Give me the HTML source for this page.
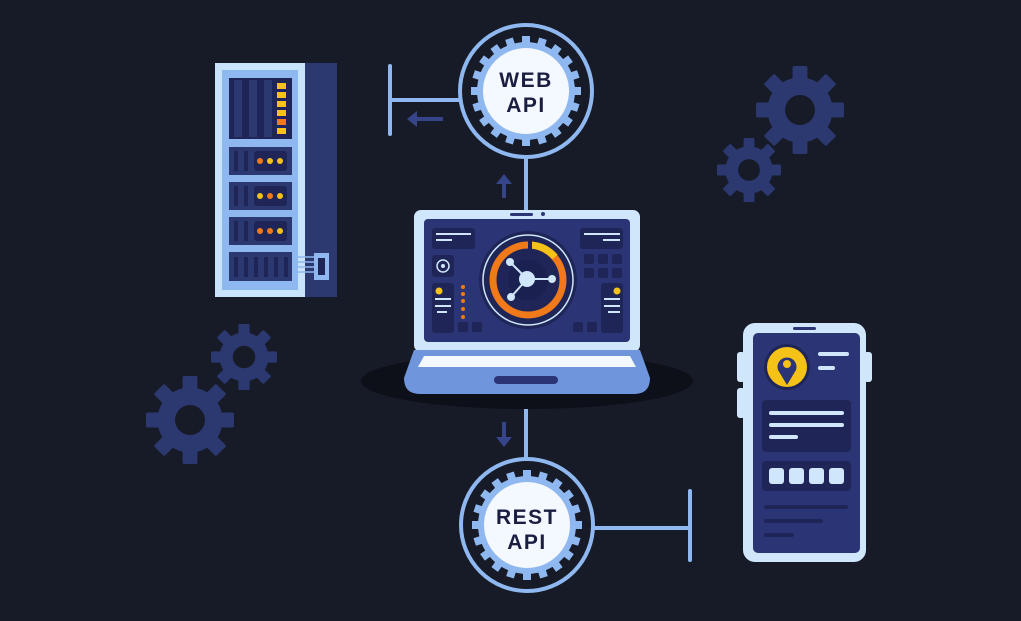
<!DOCTYPE html>
<html><head><meta charset="utf-8"><style>
html,body{margin:0;padding:0;background:#161b27;}
svg{display:block;}
text{font-family:"Liberation Sans",sans-serif;font-weight:bold;}
</style></head><body>
<svg width="1021" height="621" viewBox="0 0 1021 621" xmlns="http://www.w3.org/2000/svg">
<defs>
<g id="gear">
 <circle r="0.74" fill="#2c3870"/>
 <g fill="#2c3870">
  <rect x="-0.17" y="-1" width="0.34" height="0.4" rx="0.04"/>
  <rect x="-0.17" y="-1" width="0.34" height="0.4" rx="0.04" transform="rotate(45)"/>
  <rect x="-0.17" y="-1" width="0.34" height="0.4" rx="0.04" transform="rotate(90)"/>
  <rect x="-0.17" y="-1" width="0.34" height="0.4" rx="0.04" transform="rotate(135)"/>
  <rect x="-0.17" y="-1" width="0.34" height="0.4" rx="0.04" transform="rotate(180)"/>
  <rect x="-0.17" y="-1" width="0.34" height="0.4" rx="0.04" transform="rotate(225)"/>
  <rect x="-0.17" y="-1" width="0.34" height="0.4" rx="0.04" transform="rotate(270)"/>
  <rect x="-0.17" y="-1" width="0.34" height="0.4" rx="0.04" transform="rotate(315)"/>
 </g>
 <circle r="0.34" fill="#161b27"/>
</g>
<g id="apigear">
 <circle r="49" fill="#8fb8f0"/>
 <g fill="#8fb8f0">
  <rect x="-4" y="-55" width="8" height="10"/><rect x="-4" y="-55" width="8" height="10" transform="rotate(18)"/>
  <rect x="-4" y="-55" width="8" height="10" transform="rotate(36)"/><rect x="-4" y="-55" width="8" height="10" transform="rotate(54)"/>
  <rect x="-4" y="-55" width="8" height="10" transform="rotate(72)"/><rect x="-4" y="-55" width="8" height="10" transform="rotate(90)"/>
  <rect x="-4" y="-55" width="8" height="10" transform="rotate(108)"/><rect x="-4" y="-55" width="8" height="10" transform="rotate(126)"/>
  <rect x="-4" y="-55" width="8" height="10" transform="rotate(144)"/><rect x="-4" y="-55" width="8" height="10" transform="rotate(162)"/>
  <rect x="-4" y="-55" width="8" height="10" transform="rotate(180)"/><rect x="-4" y="-55" width="8" height="10" transform="rotate(198)"/>
  <rect x="-4" y="-55" width="8" height="10" transform="rotate(216)"/><rect x="-4" y="-55" width="8" height="10" transform="rotate(234)"/>
  <rect x="-4" y="-55" width="8" height="10" transform="rotate(252)"/><rect x="-4" y="-55" width="8" height="10" transform="rotate(270)"/>
  <rect x="-4" y="-55" width="8" height="10" transform="rotate(288)"/><rect x="-4" y="-55" width="8" height="10" transform="rotate(306)"/>
  <rect x="-4" y="-55" width="8" height="10" transform="rotate(324)"/><rect x="-4" y="-55" width="8" height="10" transform="rotate(342)"/>
 </g>
 <circle r="43" fill="#f4f8ff"/>
</g>
</defs>

<use href="#gear" transform="translate(800,110) scale(44)"/>
<use href="#gear" transform="translate(749,170) scale(32)"/>
<use href="#gear" transform="translate(244,357) scale(33)"/>
<use href="#gear" transform="translate(190,420) scale(44)"/>

<g stroke="#8fb8f0" stroke-width="4" stroke-linecap="round" fill="none">
 <line x1="390" y1="100" x2="460" y2="100"/>
 <line x1="390" y1="66" x2="390" y2="134"/>
 <line x1="526" y1="158" x2="526" y2="212"/>
 <line x1="526" y1="390" x2="526" y2="458"/>
 <line x1="594" y1="528" x2="690" y2="528"/>
 <line x1="690" y1="491" x2="690" y2="560"/>
</g>
<g fill="#36448a" stroke="#36448a">
 <line x1="413" y1="119" x2="443" y2="119" stroke-width="4"/>
 <polygon points="407,119 417,111 417,127" stroke="none"/>
 <line x1="504" y1="182" x2="504" y2="198" stroke-width="4"/>
 <polygon points="504,174 496,184 512,184" stroke="none"/>
 <line x1="504" y1="422" x2="504" y2="438" stroke-width="4"/>
 <polygon points="504,447 496,437 512,437" stroke="none"/>
</g>

<circle cx="526" cy="91" r="66" fill="#161b27" stroke="#8fb8f0" stroke-width="4"/>
<use href="#apigear" transform="translate(526,91)"/>
<text x="526" y="87" font-size="21" fill="#1a1e40" text-anchor="middle" letter-spacing="1.5">WEB</text>
<text x="526" y="112" font-size="21" fill="#1a1e40" text-anchor="middle" letter-spacing="1.5">API</text>

<circle cx="527" cy="525" r="66" fill="#161b27" stroke="#8fb8f0" stroke-width="4"/>
<use href="#apigear" transform="translate(527,525)"/>
<text x="527" y="524" font-size="21" fill="#1a1e40" text-anchor="middle" letter-spacing="1.5">REST</text>
<text x="527" y="549" font-size="21" fill="#1a1e40" text-anchor="middle" letter-spacing="1.5">API</text>

<rect x="305" y="63" width="32" height="234" fill="#2c3870"/>
<rect x="215" y="63" width="90" height="234" fill="#c9e3fb"/>
<rect x="222" y="70" width="76" height="220" fill="#8fb8f0"/>
<rect x="229" y="78" width="63" height="61" fill="#1f2657"/>
<g fill="#2c3870"><rect x="234" y="80" width="8" height="57"/><rect x="249" y="80" width="8" height="57"/><rect x="264" y="80" width="8" height="57"/></g>
<g fill="#f5c218"><rect x="277" y="83" width="9" height="6"/><rect x="277" y="92" width="9" height="6"/><rect x="277" y="101" width="9" height="6"/><rect x="277" y="110" width="9" height="6"/><rect x="277" y="128" width="9" height="6"/></g>
<rect x="277" y="119" width="9" height="6" fill="#f07a1a"/>
<g fill="#2c3870"><rect x="229" y="147" width="63" height="28"/><rect x="229" y="182" width="63" height="28"/><rect x="229" y="217" width="63" height="28"/><rect x="229" y="252" width="63" height="29"/></g>
<g fill="#1f2657"><rect x="254" y="151" width="33" height="20" rx="3"/><rect x="254" y="186" width="33" height="20" rx="3"/><rect x="254" y="221" width="33" height="20" rx="3"/></g>
<g fill="#1f2657"><rect x="234" y="151" width="4" height="20"/><rect x="244" y="151" width="4" height="20"/><rect x="234" y="186" width="4" height="20"/><rect x="244" y="186" width="4" height="20"/><rect x="234" y="221" width="4" height="20"/><rect x="244" y="221" width="4" height="20"/>
<rect x="234" y="257" width="4" height="20"/><rect x="244" y="257" width="4" height="20"/><rect x="254" y="257" width="4" height="20"/><rect x="264" y="257" width="4" height="20"/><rect x="274" y="257" width="4" height="20"/><rect x="284" y="257" width="4" height="20"/></g>
<g><circle cx="260" cy="161" r="3" fill="#f07a1a"/><circle cx="270" cy="161" r="3" fill="#f5c218"/><circle cx="280" cy="161" r="3" fill="#f5c218"/>
<circle cx="260" cy="196" r="3" fill="#f5c218"/><circle cx="270" cy="196" r="3" fill="#f07a1a"/><circle cx="280" cy="196" r="3" fill="#f5c218"/>
<circle cx="260" cy="231" r="3" fill="#f07a1a"/><circle cx="270" cy="231" r="3" fill="#f07a1a"/><circle cx="280" cy="231" r="3" fill="#f5c218"/></g>
<g stroke="#8fb8f0" stroke-width="1.5"><line x1="298" y1="257" x2="314" y2="257"/><line x1="298" y1="262" x2="314" y2="262"/><line x1="298" y1="267" x2="314" y2="267"/><line x1="298" y1="272" x2="314" y2="272"/></g>
<rect x="314" y="253" width="15" height="27" fill="#8fb8f0"/><rect x="318" y="258" width="7" height="17" fill="#1f2657"/>

<ellipse cx="527" cy="381" rx="166" ry="28" fill="#0d1019"/>
<rect x="414" y="210" width="226" height="142" rx="7" fill="#cfe6fb"/>
<rect x="424" y="219" width="206" height="123" rx="4" fill="#2b3575"/>
<rect x="510" y="213" width="23" height="3" rx="1.5" fill="#2b3575"/><circle cx="543" cy="214" r="2" fill="#2b3575"/>
<path d="M414 350 H640 L650 378 Q650 394 634 394 H420 Q404 394 404 378 Z" fill="#6f95dc"/>
<path d="M424 356 H630 L636 367 H418 Z" fill="#f4f8ff"/>
<rect x="494" y="376" width="64" height="8" rx="4" fill="#2b3575"/>
<g fill="#1f2657">
 <rect x="432" y="228" width="43" height="21" rx="3"/><rect x="580" y="228" width="43" height="21" rx="3"/>
 <rect x="432" y="255" width="22" height="22" rx="3"/>
 <rect x="432" y="283" width="22" height="50" rx="3"/><rect x="601" y="283" width="22" height="50" rx="3"/>
 <rect x="458" y="322" width="10" height="10" rx="2"/><rect x="472" y="322" width="10" height="10" rx="2"/>
 <rect x="573" y="322" width="10" height="10" rx="2"/><rect x="587" y="322" width="10" height="10" rx="2"/>
 <rect x="584" y="254" width="10" height="10" rx="2"/><rect x="598" y="254" width="10" height="10" rx="2"/><rect x="612" y="254" width="10" height="10" rx="2"/>
 <rect x="584" y="268" width="10" height="10" rx="2"/><rect x="598" y="268" width="10" height="10" rx="2"/><rect x="612" y="268" width="10" height="10" rx="2"/>
</g>
<g stroke="#cfe6fb" stroke-width="2"><line x1="436" y1="234" x2="471" y2="234"/><line x1="436" y1="240" x2="452" y2="240"/><line x1="584" y1="234" x2="620" y2="234"/><line x1="603" y1="240" x2="620" y2="240"/>
<line x1="435" y1="299" x2="451" y2="299"/><line x1="435" y1="306" x2="451" y2="306"/><line x1="437" y1="312" x2="447" y2="312"/>
<line x1="604" y1="299" x2="620" y2="299"/><line x1="604" y1="306" x2="620" y2="306"/><line x1="608" y1="312" x2="620" y2="312"/></g>
<circle cx="443" cy="266" r="6" fill="none" stroke="#cfe6fb" stroke-width="1.5"/><circle cx="443" cy="266" r="2" fill="#cfe6fb"/>
<circle cx="439" cy="291" r="3.5" fill="#f5c218"/><circle cx="617" cy="291" r="3.5" fill="#f5c218"/>
<g fill="#f07a1a"><circle cx="463" cy="287" r="2"/><circle cx="463" cy="294" r="2"/><circle cx="463" cy="301" r="2"/><circle cx="463" cy="309" r="2"/><circle cx="463" cy="317" r="2"/></g>
<circle cx="528" cy="280" r="49" fill="#1f2657"/>
<circle cx="528" cy="280" r="45" fill="none" stroke="#cfe6fb" stroke-width="1.5"/>
<circle cx="528" cy="280" r="35" fill="none" stroke="#f07a1a" stroke-width="7"/>
<path d="M531 245 A35 35 0 0 1 555 257" fill="none" stroke="#f5c218" stroke-width="7"/>
<path d="M528 245 L532 245" stroke="#1f2657" stroke-width="8"/>
<circle cx="528" cy="280" r="20" fill="#1a2050"/>
<g stroke="#cfe6fb" stroke-width="2"><line x1="527" y1="279" x2="510" y2="262"/><line x1="527" y1="279" x2="552" y2="279"/><line x1="527" y1="279" x2="511" y2="297"/></g>
<g fill="#cfe6fb"><circle cx="527" cy="279" r="8"/><circle cx="510" cy="262" r="4"/><circle cx="552" cy="279" r="4"/><circle cx="511" cy="297" r="4"/></g>

<rect x="737" y="352" width="8" height="30" rx="3" fill="#cfe6fb"/><rect x="737" y="388" width="8" height="30" rx="3" fill="#cfe6fb"/><rect x="864" y="352" width="8" height="30" rx="3" fill="#cfe6fb"/>
<rect x="743" y="323" width="123" height="239" rx="12" fill="#cfe6fb"/>
<rect x="753" y="333" width="107" height="220" rx="5" fill="#2b3575"/>
<rect x="793" y="327" width="23" height="3" rx="1.5" fill="#2b3575"/>
<circle cx="787" cy="367" r="23" fill="#1f2657"/><circle cx="787" cy="367" r="20" fill="#f5c218"/>
<path d="M787 385 L778 370 A9.5 9.5 0 1 1 796 370 Z" fill="#2b3575"/><circle cx="787" cy="364" r="4" fill="#f5c218"/>
<g stroke="#cfe6fb" stroke-width="4" stroke-linecap="round"><line x1="820" y1="354" x2="847" y2="354"/><line x1="820" y1="368" x2="833" y2="368"/></g>
<rect x="762" y="400" width="89" height="52" rx="4" fill="#1f2657"/>
<g stroke="#cfe6fb" stroke-width="4" stroke-linecap="round"><line x1="771" y1="413" x2="842" y2="413"/><line x1="771" y1="425" x2="842" y2="425"/><line x1="771" y1="437" x2="796" y2="437"/></g>
<rect x="762" y="461" width="89" height="30" rx="4" fill="#1f2657"/>
<g fill="#cfe6fb"><rect x="769" y="468" width="15" height="16" rx="3"/><rect x="789" y="468" width="15" height="16" rx="3"/><rect x="809" y="468" width="15" height="16" rx="3"/><rect x="829" y="468" width="15" height="16" rx="3"/></g>
<g stroke="#1f2657" stroke-width="4" stroke-linecap="round"><line x1="766" y1="507" x2="846" y2="507"/><line x1="766" y1="521" x2="821" y2="521"/><line x1="766" y1="535" x2="792" y2="535"/></g>
</svg>
</body></html>
